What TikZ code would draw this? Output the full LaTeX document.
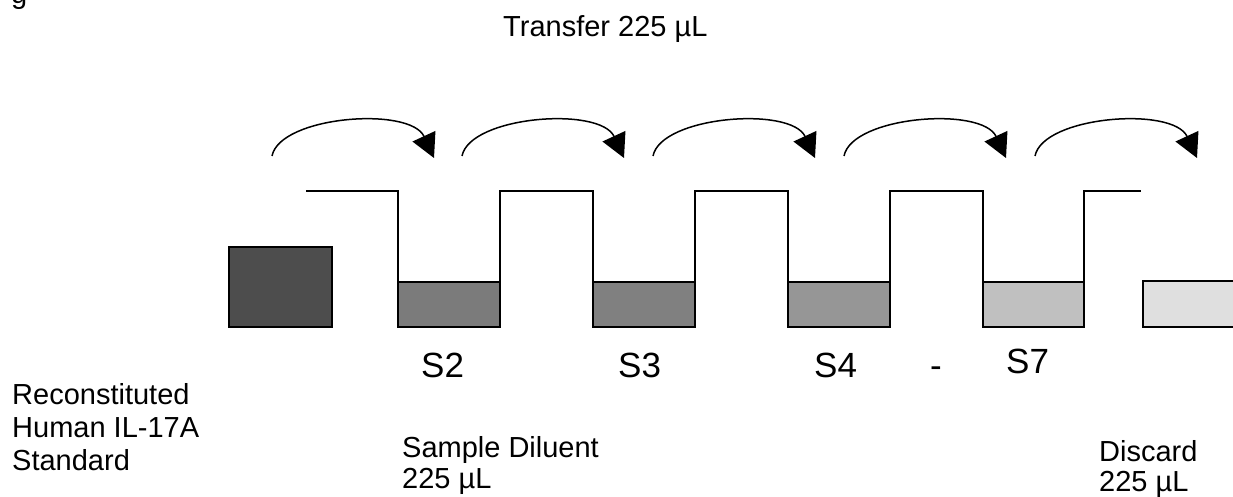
\documentclass[tikz,border=0pt]{standalone}
\usepackage{fontspec}
\setmainfont{Liberation Sans}
\usetikzlibrary{arrows.meta}
\definecolor{stdfill}{HTML}{4D4D4D}
\definecolor{wtwo}{HTML}{7B7B7B}
\definecolor{wthree}{HTML}{808080}
\definecolor{wfour}{HTML}{969696}
\definecolor{wseven}{HTML}{C0C0C0}
\definecolor{wlast}{HTML}{DFDFDF}
\begin{document}
\begin{tikzpicture}[x=1pt,y=-1pt,
  txt/.style={font=\fontsize{29}{33}\selectfont, anchor=base west, inner sep=0pt},
  lbl/.style={font=\fontsize{35}{40}\selectfont, anchor=base west, inner sep=0pt},
  tube/.style={draw=black, line width=1.6pt},
  transfer/.style={line width=1.5pt, -{Triangle[length=24pt,width=25pt]}}]
\useasboundingbox (0,0) rectangle (1233,497);

% cropped caption fragment
\node[txt] (fig) at (11,4) {g};

% title
\node[txt] (title) at (503,37) {Transfer 225 µL};

% standard tube
\filldraw[tube, fill=stdfill] (229,247) rectangle (332,327);

% wells and connecting outline
\draw[tube] (306,191) -- (398,191) -- (398,282);
\filldraw[tube, fill=wtwo] (398,282) rectangle (500,327);
\draw[tube] (500,282) -- (500,191) -- (593,191) -- (593,282);
\filldraw[tube, fill=wthree] (593,282) rectangle (695,327);
\draw[tube] (695,282) -- (695,191) -- (788,191) -- (788,282);
\filldraw[tube, fill=wfour] (788,282) rectangle (890,327);
\draw[tube] (890,282) -- (890,191) -- (983,191) -- (983,282);
\filldraw[tube, fill=wseven] (983,282) rectangle (1084,327);
\draw[tube] (1084,282) -- (1084,191) -- (1141,191);
\filldraw[tube, fill=wlast] (1143,281) rectangle (1240,327);

% transfer arrows
\foreach \i/\x in {1/272,2/462,3/653,4/844,5/1035}{
  \coordinate (s\i) at (\x,156);
  \coordinate (e\i) at (\x+162,158);
  \draw[transfer] (s\i) .. controls +(8,-40) and +(-24,-52) .. (e\i);
}

% labels
\node[lbl] (S2) at (421,377) {S2};
\node[lbl] (S3) at (618,377) {S3};
\node[lbl] (S4) at (814,377) {S4};
\node[lbl] (dash) at (930,377) {-};
\node[lbl] (S7) at (1006,373) {S7};

% bottom texts
\node[txt] (rec1) at (12,404) {Reconstituted};
\node[txt] (rec2) at (12,437) {Human IL-17A};
\node[txt] (rec3) at (12,470) {Standard};
\node[txt] (dil1) at (402,457) {Sample Diluent};
\node[txt] (dil2) at (402,488) {225 µL};
\node[txt] (dis1) at (1099,461) {Discard};
\node[txt] (dis2) at (1099,491) {225 µL};
\end{tikzpicture}
\end{document}
